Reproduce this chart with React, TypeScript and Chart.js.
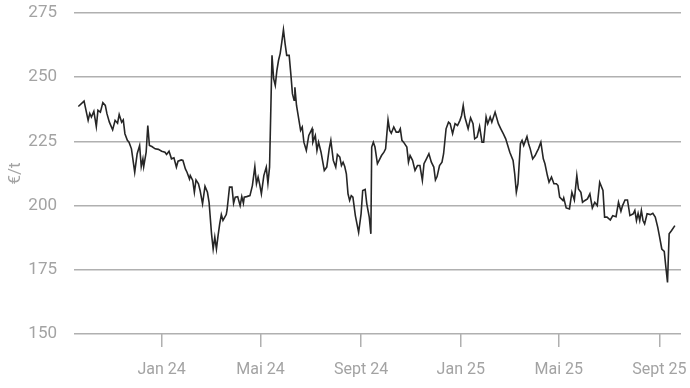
import React, { useEffect, useRef } from "react";
import { Chart, registerables } from "chart.js";

Chart.register(...registerables);

// days since 1 Jan 2024
const DAYS = [
  -102, -95, -90, -88, -86, -83, -80, -78, -75, -72, -69, -67, -64, -60, -57, -54, -52, -49, -47, -45,
  -42, -40, -37, -33, -30, -27, -25, -23, -22, -19, -17, -15, -12, -8, -4, 0, 4, 6, 9, 12,
  15, 18, 20, 24, 26, 29, 31, 34, 35, 38, 40, 42, 45, 47, 50, 53, 56, 58, 61, 63,
  65, 67, 69, 71, 73, 75, 79, 80, 83, 86, 88, 90, 93, 96, 98, 100, 101, 104, 108, 111,
  114, 116, 118, 120, 122, 125, 128, 130, 132, 135, 137, 139, 141, 143, 145, 147, 149, 151, 153, 156,
  158, 160, 162, 163, 165, 168, 170, 172, 174, 177, 180, 184, 185, 188, 190, 192, 195, 199, 202, 205,
  207, 210, 213, 215, 218, 220, 222, 224, 226, 228, 230, 232, 234, 237, 241, 244, 246, 249, 251, 254,
  256, 257, 259, 261, 264, 267, 269, 272, 274, 277, 279, 281, 284, 287, 290, 292, 294, 296, 300, 302,
  304, 307, 310, 313, 316, 319, 321, 324, 327, 330, 333, 335, 337, 340, 343, 345, 348, 351, 353, 356,
  359, 362, 365, 367, 369, 371, 375, 378, 381, 383, 386, 389, 392, 394, 397, 399, 402, 404, 408, 412,
  415, 418, 421, 426, 430, 432, 434, 436, 439, 441, 443, 447, 449, 451, 454, 457, 459, 461, 464, 467,
  469, 472, 474, 477, 480, 483, 485, 487, 491, 492, 495, 499, 502, 505, 508, 510, 513, 515, 518, 521,
  524, 527, 530, 533, 536, 540, 542, 545, 549, 552, 556, 559, 562, 564, 567, 570, 573, 577, 579, 581,
  583, 585, 587, 589, 591, 594, 598, 601, 604, 607, 609, 612, 615, 617, 619, 621, 624, 628,
];

// price in €/t
const PRICES = [
  238.6, 240.7, 233.2, 235.9, 234.5, 236.7, 230.8, 237.1, 236.4, 240.1, 239.0, 235.8, 232.5, 229.5, 233.2, 232.1, 235.5, 232.5, 233.4, 228.0,
  225.4, 224.7, 222.1, 213.0, 220.2, 223.4, 215.2, 218.2, 215.2, 220.8, 231.2, 223.4, 223.0, 222.1, 221.9, 221.2, 220.8, 219.9, 221.2, 218.2,
  218.6, 215.0, 217.3, 217.8, 217.6, 214.3, 213.0, 210.4, 211.7, 209.8, 205.2, 210.0, 208.5, 205.9, 200.7, 207.5, 205.2, 201.3, 189.0, 183.1,
  187.7, 183.1, 188.3, 192.9, 196.5, 194.2, 196.5, 198.3, 207.2, 207.2, 200.9, 203.3, 203.5, 200.0, 203.5, 200.9, 203.3, 203.5, 203.9, 207.8,
  215.2, 208.5, 211.1, 208.2, 204.6, 211.7, 215.0, 208.7, 215.0, 258.5, 249.4, 246.8, 252.7, 256.6, 259.2, 263.7, 268.5, 263.1, 258.5, 258.5,
  251.4, 243.6, 241.0, 246.1, 239.0, 233.2, 229.3, 230.6, 224.7, 221.5, 227.3, 229.9, 224.7, 227.3, 221.5, 224.7, 220.8, 213.7, 215.0, 222.1,
  225.4, 217.6, 215.0, 219.9, 218.9, 215.6, 216.9, 215.2, 212.4, 204.6, 202.0, 203.9, 203.3, 196.1, 189.6, 196.8, 205.9, 206.3, 200.7, 195.5,
  189.0, 222.8, 224.7, 222.8, 216.3, 218.2, 219.5, 220.8, 222.1, 233.4, 229.3, 228.2, 230.6, 228.6, 228.6, 229.9, 225.4, 224.7, 222.8, 216.9,
  219.5, 217.6, 213.7, 215.6, 215.6, 209.8, 216.3, 218.2, 220.2, 216.9, 215.0, 210.0, 211.3, 215.6, 216.9, 220.2, 229.9, 232.5, 231.9, 228.0,
  231.9, 231.2, 233.2, 235.1, 239.0, 234.5, 229.9, 234.2, 231.9, 226.0, 226.7, 230.8, 224.7, 224.7, 234.5, 231.9, 234.5, 232.5, 236.4, 231.9,
  229.9, 228.0, 226.0, 220.8, 217.6, 212.4, 205.2, 208.5, 224.1, 225.4, 223.4, 226.9, 224.1, 222.1, 218.2, 219.5, 220.8, 222.1, 224.7, 218.2,
  216.3, 211.7, 209.1, 211.1, 208.5, 208.5, 207.8, 203.3, 202.0, 203.0, 199.1, 198.7, 205.2, 202.2, 211.7, 206.5, 205.2, 201.3, 202.0, 202.6,
  204.6, 199.1, 201.3, 200.0, 209.1, 205.9, 195.5, 195.5, 194.4, 196.1, 195.7, 201.3, 197.8, 200.0, 202.2, 202.2, 196.1, 196.8, 198.1, 194.2,
  197.0, 194.2, 198.1, 194.2, 192.9, 196.8, 196.5, 197.0, 195.5, 191.6, 188.3, 183.1, 182.2, 176.0, 170.1, 189.0, 190.3, 192.2,
];

const TICK_DAYS = [0, 121, 244, 366, 486, 609];
const TICK_LABELS = ["Jan 24", "Mai 24", "Sept 24", "Jan 25", "Mai 25", "Sept 25"];
const Y_TICKS = [150, 175, 200, 225, 250, 275];
const Y_TITLE = "€/t";

const FONT = "'Roboto', sans-serif";
const TEXT = "#a3a3a3";
const GRID = "#b0b0b0";

export default function App() {
  const ref = useRef<HTMLCanvasElement>(null);

  useEffect(() => {
    document.body.style.margin = "0";
    const canvas = ref.current;
    if (!canvas) return;
    const chart = new Chart(canvas, {
      type: "line",
      data: {
        datasets: [
          {
            data: DAYS.map((d, i) => ({ x: d, y: PRICES[i] })),
            borderColor: "#262626",
            borderWidth: 1.6,
            pointRadius: 0,
            tension: 0,
            fill: false,
          },
        ],
      },
      options: {
        responsive: false,
        animation: false,
        layout: { padding: { top: 13, right: 9, left: 0, bottom: 0 } },
        plugins: { legend: { display: false }, tooltip: { enabled: false } },
        scales: {
          x: {
            type: "linear",
            min: -107.3,
            max: 635.5,
            afterBuildTicks: (scale: any) => {
              scale.ticks = TICK_DAYS.map((v) => ({ value: v }));
            },
            afterFit: (scale: any) => {
              scale.height = 54;
              scale.paddingLeft = 0;
              scale.paddingRight = 0;
            },
            border: { display: false },
            grid: {
              drawOnChartArea: false,
              drawTicks: true,
              tickLength: 13,
              color: GRID,
              lineWidth: 1.5,
            },
            ticks: {
              autoSkip: false,
              maxRotation: 0,
              padding: 13,
              color: TEXT,
              font: { family: FONT, size: 16 },
              callback: (_v: any, i: number) => TICK_LABELS[i],
            },
          },
          y: {
            min: 150,
            max: 275,
            afterBuildTicks: (scale: any) => {
              scale.ticks = Y_TICKS.map((v) => ({ value: v }));
            },
            afterFit: (scale: any) => {
              scale.width = 74;
              scale.paddingTop = 0;
              scale.paddingBottom = 0;
            },
            border: { display: false },
            grid: { drawTicks: false, color: GRID, lineWidth: 1.6 },
            ticks: {
              padding: 17,
              color: TEXT,
              font: { family: FONT, size: 17 },
            },
            title: {
              display: true,
              text: Y_TITLE,
              color: TEXT,
              font: { family: FONT, size: 17 },
              padding: { top: 6, bottom: 0 },
            },
          },
        },
      },
    });
    return () => chart.destroy();
  }, []);

  return (
    <div style={{ width: 690, height: 388 }}>
      <canvas ref={ref} width={690} height={388} style={{ display: "block" }} />
    </div>
  );
}
